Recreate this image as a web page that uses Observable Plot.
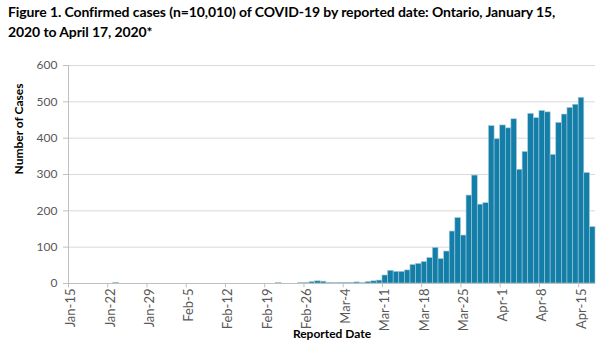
<!DOCTYPE html>
<html><head><meta charset="utf-8">
<script src="https://cdn.jsdelivr.net/npm/d3@7"></script>
<script src="https://cdn.jsdelivr.net/npm/@observablehq/plot@0.6"></script>
<style>
body{margin:0;background:#fff;font-family:Lato,"Open Sans",sans-serif;}
#title{position:absolute;left:8px;top:2px;font-weight:bold;font-size:14px;letter-spacing:-0.1px;line-height:20px;color:#000;width:592px;white-space:nowrap;}
#chart{position:absolute;left:0;top:45px;}
</style></head><body>
<div id="title">Figure 1. Confirmed cases (n=10,010) of COVID-19 by reported date: Ontario, January 15,<br>2020 to April 17, 2020*</div>
<div id="chart"></div>
<script>
const startDate = "2020-01-15";
// daily confirmed cases, Jan 15 .. Apr 17 (94 days)
const cases = [
  0,0,0,0,0,0,0,0,2,0,            // Jan 15-24
  0,0,0,0,0,0,0,                  // Jan 25-31
  0,0,0,0,0,0,0,0,0,0,0,0,0,0,0,0,0,0,0,0,1,0,0,0,1,2,4,6,5, // Feb 1-29
  2,1,2,2,2,3,1,4,6,8,            // Mar 1-10
  22,35,32,32,36,51,54,59,70,98,  // Mar 11-20
  67,88,143,180,132,242,297,217,221,433,397, // Mar 21-31
  435,427,452,313,362,467,455,475,471,354,   // Apr 1-10
  442,465,483,492,511,304,155                // Apr 11-17
];
const yTicks = [0,100,200,300,400,500,600];
const tickEvery = 7;
const yTitle = "Number of Cases";
const xTitle = "Reported Date";

const fmt = d3.utcFormat("%b-%-d");
const labels = cases.map((_, i) => fmt(d3.utcDay.offset(new Date(startDate + "T00:00:00Z"), i)));
const data = labels.map((label, i) => ({label, cases: cases[i]}));
const weekly = labels.filter((_, i) => i % tickEvery === 0);

const W = 600, H = 301, mL = 68, mR = 5, mT = 20, mB = 63;
const bw = (W - mL - mR) / labels.length;

const chart = Plot.plot({
  width: W, height: H,
  marginLeft: mL, marginRight: mR, marginTop: mT, marginBottom: mB,
  style: {fontFamily: "Lato, 'Open Sans', sans-serif", fontSize: "12px", color: "#595959", background: "#fff"},
  x: {type: "band", domain: labels, padding: 0, label: null},
  y: {domain: [0, 600], label: null},
  marks: [
    Plot.gridY(yTicks.filter(d => d > 0), {stroke: "#d9d9d9", strokeOpacity: 1, strokeWidth: 1}),
    Plot.barY(data, {x: "label", y: "cases", fill: "#137ea8", stroke: "#a6c8d9", strokeWidth: 0.6}),
    Plot.ruleY([0], {stroke: "#bfbfbf", strokeWidth: 1}),
    Plot.ruleX([labels[0]], {y1: 0, y2: 600, dx: -bw / 2, stroke: "#bfbfbf"}),
    Plot.ruleX(weekly, {x: d => d, y1: 0, y2: -12, dx: -bw / 2, stroke: "#bfbfbf", clip: false}),
    Plot.axisY({ticks: yTicks, tickSize: 5, tickPadding: 6, stroke: "#bfbfbf", fill: "#595959", label: null}),
    Plot.axisX({ticks: weekly, tickSize: 0, tickPadding: 5, tickRotate: -90, fill: "#595959", fontSize: 13, label: null}),
    Plot.text([yTitle], {frameAnchor: "left", rotate: -90, dx: -49, fontWeight: "bold", fill: "#000", fontSize: 12}),
    Plot.text([xTitle], {frameAnchor: "bottom", dy: 54, fontWeight: "bold", fill: "#000", fontSize: 12})
  ]
});
document.getElementById("chart").appendChild(chart);
</script>
</body></html>
